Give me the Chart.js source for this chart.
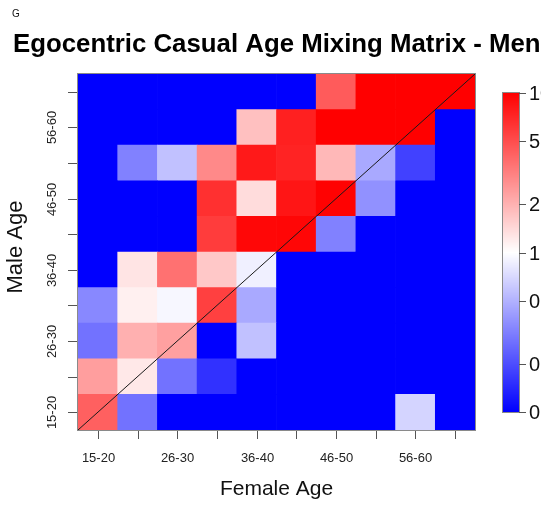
<!DOCTYPE html>
<html>
<head>
<meta charset="utf-8">
<script src="https://cdn.jsdelivr.net/npm/chart.js@4.4.0/dist/chart.umd.min.js"></script>
<style>
  html, body { margin: 0; padding: 0; background: #fff; }
  #wrap { width: 541px; height: 506px; }
</style>
</head>
<body>
<div id="wrap"><canvas id="mixChart" width="541" height="506"></canvas></div>
<script>
'use strict';

// Age groups, used for both axes (female along x, male along y)
const ageGroups = ['15-20', '21-25', '26-30', '31-35', '36-40', '41-45', '46-50', '51-55', '56-60', '61-65'];
const labelledGroups = ['15-20', '26-30', '36-40', '46-50', '56-60'];

// Mixing ratio per female age group, one array per male age group
const male15_20 = [4.2, 0.28, 0, 0, 0, 0, 0, 0, 0.68, 0];
const male21_25 = [2.4, 1.23, 0.28, 0.155, 0, 0, 0, 0, 0, 0];
const male26_30 = [0.28, 2.05, 2.35, 0, 0.57, 0, 0, 0, 0, 0];
const male31_35 = [0.34, 1.15, 0.93, 5.6, 0.46, 0, 0, 0, 0, 0];
const male36_40 = [0, 1.28, 3.6, 1.65, 0.87, 0, 0, 0, 0, 0];
const male41_45 = [0, 0, 0, 5.8, 9.4, 9.5, 0.32, 0, 0, 0];
const male46_50 = [0, 0, 0, 6.5, 1.37, 8.3, 9.8, 0.37, 0, 0];
const male51_55 = [0, 0.32, 0.57, 2.9, 8.0, 7.3, 1.9, 0.46, 0.18, 0];
const male56_60 = [0, 0, 0, 0, 1.77, 7.5, 10, 10, 10, 0];
const male61_65 = [0, 0, 0, 0, 0, 0, 4.4, 10, 10, 10];
const maleRows = [male15_20, male21_25, male26_30, male31_35, male36_40,
                  male41_45, male46_50, male51_55, male56_60, male61_65];

// Colour key ticks (log scale, 0.1 .. 10)
const keyTicks = [10, 5, 2, 1, 0.5, 0.2, 0.1];
const keyLabels = ['10', '5', '2', '1', '0.5', '0.2', '0.1'];

const FONT = '"Liberation Sans", Arial, Helvetica, sans-serif';

// blue (0.1) -> white (1) -> red (10), linear in log10
function ratioColor(v) {
  const t = Math.max(-1, Math.min(1, Math.log10(Math.max(v, 0.1))));
  if (t >= 0) {
    const c = Math.round(255 * (1 - t));
    return `rgb(255,${c},${c})`;
  }
  const c = Math.round(255 * (1 + t));
  return `rgb(${c},${c},255)`;
}

const datasets = maleRows.map((row, r) => ({
  label: ageGroups[r],
  data: row.map(() => [r, r + 1]),
  backgroundColor: row.map(ratioColor),
  borderColor: row.map(ratioColor),
  borderWidth: 0,
  borderSkipped: false,
  barPercentage: 1,
  categoryPercentage: 1
}));

const decorations = {
  id: 'decorations',
  afterDatasetsDraw(chart) {
    const { ctx, chartArea: a, scales: { x, y } } = chart;
    ctx.save();

    // y = x reference line
    ctx.strokeStyle = '#1a1a1a';
    ctx.lineWidth = 1;
    ctx.beginPath();
    ctx.moveTo(a.left, a.bottom);
    ctx.lineTo(a.right, a.top);
    ctx.stroke();

    // panel border
    ctx.strokeStyle = '#8a8a8a';
    ctx.strokeRect(a.left - 0.5, a.top - 0.5, a.right - a.left + 1, a.bottom - a.top + 1);

    // x ticks and labels
    ctx.strokeStyle = '#555';
    ctx.fillStyle = '#222';
    ctx.font = `13px ${FONT}`;
    ctx.textAlign = 'center';
    ctx.textBaseline = 'middle';
    ageGroups.forEach((g, i) => {
      const px = Math.round(x.getPixelForValue(i)) + 0.5;
      ctx.beginPath();
      ctx.moveTo(px, a.bottom + 1);
      ctx.lineTo(px, a.bottom + 9);
      ctx.stroke();
      if (labelledGroups.includes(g)) ctx.fillText(g, px, a.bottom + 28);
    });

    // y ticks and rotated labels
    ageGroups.forEach((g, i) => {
      const py = Math.round(y.getPixelForValue(i + 0.5)) + 0.5;
      ctx.beginPath();
      ctx.moveTo(a.left - 10, py);
      ctx.lineTo(a.left - 1, py);
      ctx.stroke();
      if (labelledGroups.includes(g)) {
        ctx.save();
        ctx.translate(a.left - 26, py);
        ctx.rotate(-Math.PI / 2);
        ctx.fillText(g, 0, 0);
        ctx.restore();
      }
    });

    // axis titles
    ctx.fillStyle = '#111';
    ctx.font = `21px ${FONT}`;
    ctx.fillText('Female Age', (a.left + a.right) / 2, 489);
    ctx.font = `22px ${FONT}`;
    ctx.save();
    ctx.translate(16, 247);
    ctx.rotate(-Math.PI / 2);
    ctx.fillText('Male Age', 0, 0);
    ctx.restore();

    // panel tag and title
    ctx.textAlign = 'left';
    ctx.textBaseline = 'alphabetic';
    ctx.font = `10px ${FONT}`;
    ctx.fillText('G', 12, 17);
    ctx.font = `bold 25.8px ${FONT}`;
    ctx.fillStyle = '#000';
    ctx.fillText('Egocentric Casual Age Mixing Matrix - Men', 13, 52);

    // colour key
    const kx = 503, kw = 16, kTop = 93, kBot = 412;
    const logMin = Math.log10(0.1), logMax = Math.log10(10);
    const keyY = v => kBot - (Math.log10(v) - logMin) / (logMax - logMin) * (kBot - kTop);
    for (let py = kTop; py < kBot; py++) {
      const v = Math.pow(10, logMin + (kBot - py - 0.5) / (kBot - kTop) * (logMax - logMin));
      ctx.fillStyle = ratioColor(v);
      ctx.fillRect(kx, py, kw, 1);
    }
    ctx.strokeStyle = '#8a8a8a';
    ctx.strokeRect(kx - 0.5, kTop - 0.5, kw + 1, kBot - kTop + 1);
    ctx.strokeStyle = '#555';
    ctx.fillStyle = '#111';
    ctx.font = `20px ${FONT}`;
    ctx.textBaseline = 'middle';
    keyTicks.forEach((v, i) => {
      const py = Math.round(keyY(v)) + 0.5;
      ctx.beginPath();
      ctx.moveTo(kx + kw, py);
      ctx.lineTo(kx + kw + 7, py);
      ctx.stroke();
      ctx.fillText(keyLabels[i], kx + kw + 10, py + 1);
    });

    ctx.restore();
  }
};

new Chart(document.getElementById('mixChart'), {
  type: 'bar',
  data: { labels: ageGroups, datasets },
  options: {
    responsive: false,
    animation: false,
    layout: { padding: { left: 78, right: 66, top: 74, bottom: 76 } },
    plugins: { legend: { display: false }, tooltip: { enabled: false }, title: { display: false } },
    scales: {
      x: { type: 'category', stacked: true, display: false, offset: true },
      y: { type: 'linear', min: 0, max: 10, display: false }
    }
  },
  plugins: [decorations]
});
</script>
</body>
</html>
